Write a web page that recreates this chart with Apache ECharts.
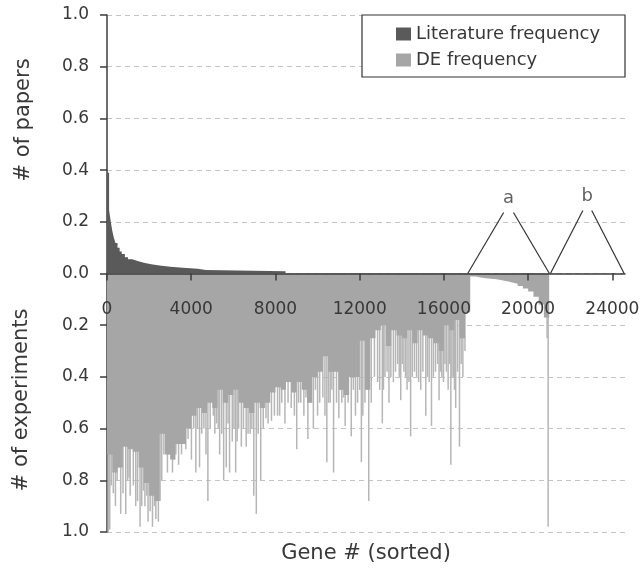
<!DOCTYPE html>
<html>
<head>
<meta charset="utf-8">
<script src="https://cdn.jsdelivr.net/npm/echarts@6/dist/echarts.min.js"></script>
<style>
  html, body { margin: 0; padding: 0; background: #fff; }
  #chart { width: 643px; height: 573px; }
</style>
</head>
<body>
<div id="chart"></div>
<script>
// literature frequency (upper half), each value holds until the next gene #
var litGene = [0, 100, 180, 250, 320, 400, 500, 600, 700, 850, 1000, 1200, 1450, 1750, 2100, 2500, 3000, 3600, 4300, 4700, 8480];
var litFreq = [0.39, 0.245, 0.2, 0.165, 0.14, 0.118, 0.1, 0.085, 0.075, 0.063, 0.055, 0.048, 0.042, 0.036, 0.031, 0.026, 0.022, 0.018, 0.014, 0.009, 0.009];

// DE frequency (lower half), solid part, one value per bin of 250 genes
var deBinSize = 250;
var deBins = [
  0.7, 0.77, 0.75, 0.67, 0.68, 0.69, 0.75, 0.81, 0.86, 0.88, 0.62, 0.7, 0.72, 0.66, 0.66, 0.6, 0.55, 0.52,
  0.54, 0.5, 0.52, 0.45, 0.5, 0.47, 0.45, 0.5, 0.52, 0.54, 0.5, 0.52, 0.5, 0.46, 0.44, 0.45, 0.42,
  0.46, 0.42, 0.45, 0.5, 0.4, 0.38, 0.32, 0.38, 0.38, 0.45, 0.47, 0.4, 0.4, 0.26, 0.45, 0.25, 0.22,
  0.2, 0.28, 0.22, 0.24, 0.25, 0.22, 0.27, 0.22, 0.24, 0.25, 0.27, 0.3, 0.2, 0.22, 0.18, 0.25, 0.15,
  0.012, 0.015, 0.018, 0.02, 0.022, 0.026, 0.03, 0.035, 0.04, 0.048, 0.058, 0.07, 0.09, 0.12, 0.17
];

// single genes reaching well below the solid part
var spikeGene = [60, 130, 300, 480, 650, 890, 1050, 1100, 1365, 1570, 1730, 1890, 1950, 2160, 2320, 2440, 2520, 2700,
  2870, 3110, 3270, 3540, 3745, 4010, 4220, 4395, 4600, 4790, 5050, 5200, 5350, 5540, 5665, 5820, 5950, 6110, 6250,
  6380, 6610, 6800, 6970, 7090, 7300, 7650, 7810, 8100, 8300, 8600, 9010, 9200, 9540, 9800, 10000, 10250, 10440,
  10600, 10760, 11010, 11150, 11310, 11600, 11800, 12080, 12250, 12430, 12700, 13075, 13200, 13390, 13600, 13800,
  13950, 14100, 14250, 14420, 14700, 14900, 15140, 15300, 15410, 15600, 15770, 15900, 16050, 16200, 16330, 16450,
  16560, 16740, 16900, 20900, 20950];
var spikeFreq = [1.0, 0.99, 0.85, 0.8, 0.93, 0.93, 0.79, 0.86, 0.9, 0.98, 0.84, 0.86, 0.96, 0.98, 0.95, 0.96, 0.88, 0.7,
  0.77, 0.77, 0.7, 0.7, 0.68, 0.72, 0.77, 0.75, 0.6, 0.88, 0.55, 0.58, 0.7, 0.8, 0.75, 0.77, 0.65, 0.77, 0.6,
  0.67, 0.67, 0.62, 0.86, 0.93, 0.8, 0.58, 0.57, 0.55, 0.5, 0.5, 0.68, 0.5, 0.64, 0.6, 0.55, 0.48, 0.73,
  0.5, 0.77, 0.56, 0.5, 0.59, 0.63, 0.55, 0.73, 0.5, 0.88, 0.4, 0.58, 0.4, 0.5, 0.42, 0.35,
  0.49, 0.38, 0.45, 0.63, 0.4, 0.45, 0.55, 0.42, 0.59, 0.38, 0.49, 0.4, 0.35, 0.45, 0.74, 0.4,
  0.52, 0.67, 0.4, 0.25, 0.98];

// shorter genes filling the comb between the long ones
var combGene = [200, 400, 560, 760, 980, 1250, 1450, 1650, 1800, 2050, 2250, 2600, 2950, 3180, 3400, 3650, 3850, 4120,
  4300, 4500, 4700, 4900, 5120, 5280, 5450, 5750, 6030, 6180, 6480, 6700, 6880, 7180, 7420, 7550, 7950, 8200, 8450,
  8750, 8900, 9100, 9350, 9450, 9650, 9900, 10100, 10350, 10520, 10680, 10900, 11080, 11230, 11450, 11700, 11900,
  12000, 12150, 12350, 12550, 12850, 12950, 13130, 13300, 13480, 13700, 13880, 14020, 14180, 14340, 14500, 14600,
  14800, 15000, 15220, 15500, 15700, 15830, 15980, 16120, 16270, 16380, 16500, 16650, 16820, 17000];
var combFreq = [0.82, 0.9, 0.75, 0.85, 0.8, 0.82, 0.88, 0.9, 0.9, 0.92, 0.9, 0.8, 0.7, 0.72, 0.74, 0.66, 0.64, 0.6,
  0.6, 0.62, 0.7, 0.6, 0.62, 0.6, 0.62, 0.58, 0.6, 0.65, 0.6, 0.62, 0.6, 0.62, 0.6, 0.56, 0.55, 0.55, 0.58,
  0.52, 0.55, 0.5, 0.55, 0.48, 0.5, 0.45, 0.5, 0.55, 0.5, 0.45, 0.5, 0.45, 0.48, 0.5, 0.45, 0.5,
  0.45, 0.55, 0.45, 0.5, 0.42, 0.45, 0.45, 0.38, 0.4, 0.38, 0.4, 0.35, 0.4, 0.42, 0.4, 0.38,
  0.42, 0.38, 0.4, 0.4, 0.35, 0.38, 0.42, 0.38, 0.35, 0.4, 0.45, 0.38, 0.35, 0.3];

// the two brackets "a" and "b" above the axis: [start gene, end gene, height]
var bracketA = [17130, 21010, 0.236];
var bracketB = [21060, 24560, 0.244];

var litData = litGene.map(function (g, i) { return [g, litFreq[i]]; });
var deData = deBins.map(function (v, i) { return [i * deBinSize, -v]; });
deData.push([deBins.length * deBinSize, -deBins[deBins.length - 1]]);
var spikeData = spikeGene.map(function (g, i) { return [g, -spikeFreq[i]]; })
  .concat(combGene.map(function (g, i) { return [g, -combFreq[i]]; }));

function bracket (b) {
  var mid = (b[0] + b[1]) / 2;
  var gap = (b[1] - b[0]) * 0.06;
  return [
    [{ coord: [b[0], 0] }, { coord: [mid - gap, b[2]] }],
    [{ coord: [mid + gap, b[2]] }, { coord: [b[1], 0] }]
  ];
}

var textColor = '#383838';
var font = 'DejaVu Sans';

var chart = echarts.init(document.getElementById('chart'));
chart.setOption({
  animation: false,
  grid: { left: 107, right: 18, top: 15, bottom: 41 },
  legend: {
    data: ['Literature frequency', 'DE frequency'],
    orient: 'vertical',
    left: 391,
    top: 20,
    z: 6,
    icon: 'rect',
    itemWidth: 15,
    itemHeight: 13,
    itemGap: 8,
    selectedMode: false,
    textStyle: { fontSize: 18, color: textColor, fontFamily: font }
  },
  graphic: [
    {
      type: 'rect', z: 4,
      shape: { x: 362, y: 15, width: 263, height: 62 },
      style: { fill: '#fff', stroke: '#333', lineWidth: 1.2 }
    },
    {
      type: 'text', x: 24, y: 120, rotation: Math.PI / 2,
      style: { text: '# of papers', font: '21px "DejaVu Sans"', fill: textColor, textAlign: 'center', textVerticalAlign: 'middle' }
    },
    {
      type: 'text', x: 22, y: 400, rotation: Math.PI / 2,
      style: { text: '# of experiments', font: '21px "DejaVu Sans"', fill: textColor, textAlign: 'center', textVerticalAlign: 'middle' }
    },
    {
      type: 'text', x: 366, y: 554,
      style: { text: 'Gene # (sorted)', font: '21px "DejaVu Sans"', fill: textColor, textAlign: 'center', textVerticalAlign: 'middle' }
    }
  ],
  xAxis: {
    type: 'value',
    min: 0,
    max: 24600,
    interval: 4000,
    z: 10,
    offset: -258.5,
    axisLine: { onZero: false, lineStyle: { color: '#3c3c3c', width: 1.5 } },
    axisTick: { show: true, length: 7, lineStyle: { color: '#3c3c3c', width: 1.5 } },
    axisLabel: {
      margin: 28, fontSize: 17, color: textColor, fontFamily: font, showMaxLabel: false,
      formatter: function (v) { return String(v); }
    },
    splitLine: { show: false }
  },
  yAxis: {
    type: 'value',
    min: -1,
    max: 1,
    interval: 0.2,
    axisLine: { show: true, lineStyle: { color: '#3c3c3c', width: 1.5 } },
    axisTick: { show: true, length: 7, lineStyle: { color: '#3c3c3c', width: 1.5 } },
    axisLabel: {
      margin: 18, fontSize: 17, color: textColor, fontFamily: font,
      formatter: function (v) { return Math.abs(v).toFixed(1); }
    },
    splitLine: { show: true, lineStyle: { type: [5, 4], color: '#c4c4c4', width: 1 } }
  },
  series: [
    {
      name: 'Literature frequency',
      type: 'line',
      step: 'end',
      data: litData,
      symbol: 'none',
      lineStyle: { width: 0 },
      itemStyle: { color: '#5a5a5a' },
      areaStyle: { color: '#5a5a5a', opacity: 1 }
    },
    {
      name: 'DE frequency',
      type: 'line',
      step: 'end',
      data: deData,
      symbol: 'none',
      lineStyle: { width: 0 },
      itemStyle: { color: '#a6a6a6' },
      areaStyle: { color: '#a6a6a6', opacity: 1 }
    },
    {
      name: 'DE frequency',
      type: 'bar',
      data: spikeData,
      barWidth: 1.5,
      itemStyle: { color: '#b6b6b6' }
    },
    {
      type: 'scatter',
      data: [[(bracketA[0] + bracketA[1]) / 2, bracketA[2] + 0.055, 'a'], [(bracketB[0] + bracketB[1]) / 2, bracketB[2] + 0.055, 'b']],
      symbolSize: 0,
      silent: true,
      label: {
        show: true, position: 'inside', fontSize: 18, color: textColor, fontFamily: font,
        formatter: function (p) { return p.value[2]; }
      },
      markLine: {
        silent: true,
        symbol: 'none',
        label: { show: false },
        lineStyle: { color: '#333', width: 1.2, type: 'solid' },
        data: bracket(bracketA).concat(bracket(bracketB))
      }
    }
  ]
});
</script>
</body>
</html>
